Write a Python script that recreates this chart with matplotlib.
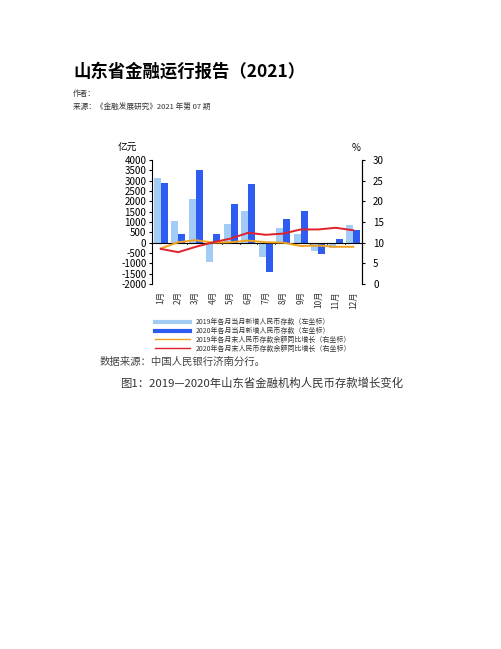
import matplotlib
matplotlib.use("Agg")
import matplotlib.pyplot as plt
from matplotlib.lines import Line2D
import numpy as np

plt.rcParams['font.family'] = ['Noto Sans CJK SC', 'DejaVu Sans']
plt.rcParams['axes.unicode_minus'] = False

months = ["1月", "2月", "3月", "4月", "5月", "6月", "7月", "8月", "9月", "10月", "11月", "12月"]
dep_2019 = [3150, 1050, 2100, -950, 900, 1550, -700, 700, 400, -400, -250, 850]
dep_2020 = [2900, 400, 3500, 400, 1850, 2850, -1400, 1150, 1550, -550, 200, 600]
yoy_2019 = [8.6, 10.1, 10.6, 10.0, 10.1, 10.5, 10.1, 10.0, 9.2, 9.3, 9.0, 9.0]
yoy_2020 = [8.5, 7.7, 9.0, 10.1, 11.0, 12.4, 11.9, 12.2, 13.2, 13.2, 13.6, 13.0]

c_light = "#a2cbf5"
c_dark = "#2f5cf0"
c_orange = "#f0a21e"
c_red = "#e0202a"

fig = plt.figure(figsize=(5.02, 6.49), dpi=100)
fig.patch.set_facecolor("white")

# header text
fig.text(73 / 502, 1 - 72 / 649, "山东省金融运行报告（2021）", fontsize=12.5, fontweight="bold",
         va="center", ha="left")
fig.text(73 / 502, 1 - 94 / 649, "作者：", fontsize=5.5, color="#333333", va="center")
fig.text(73 / 502, 1 - 108 / 649, "来源：《金融发展研究》2021 年第 07 期", fontsize=5.5,
         color="#333333", va="center")

ax = fig.add_axes([152 / 502, 1 - 284 / 649, 210 / 502, 124 / 649])
x = np.arange(len(months))
w = 0.4
ax.bar(x - w / 2, dep_2019, width=w, color=c_light, zorder=2)
ax.bar(x + w / 2, dep_2020, width=w, color=c_dark, zorder=2)
ax.set_xlim(-0.5, 11.5)
ax.set_ylim(-2000, 4000)
ax.set_yticks(range(-2000, 4001, 500))
ax.axhline(0, color="black", lw=0.8, zorder=3)
for s in ["top", "bottom"]:
    ax.spines[s].set_visible(False)
ax.spines["left"].set_linewidth(0.8)
ax.tick_params(axis="y", labelsize=7, length=2, width=0.8, pad=2)
ax.set_xticks(x)
ax.set_xticklabels(months, rotation=90, fontsize=6, color="#333333")
ax.tick_params(axis="x", length=0, pad=5)
for i in range(len(months) + 1):
    ax.plot([i - 0.5, i - 0.5], [0, -60], color="black", lw=0.6, zorder=3)

ax2 = ax.twinx()
ax2.plot(x, yoy_2019, color=c_orange, lw=1.4, zorder=4)
ax2.plot(x, yoy_2020, color=c_red, lw=1.4, zorder=4)
ax2.set_ylim(0, 30)
ax2.set_yticks(range(0, 31, 5))
for s in ["top", "bottom", "left"]:
    ax2.spines[s].set_visible(False)
ax2.spines["right"].set_linewidth(0.8)
ax2.tick_params(axis="y", labelsize=7, length=2, width=0.8, pad=6)

fig.text(127 / 502, 1 - 148 / 649, "亿元", fontsize=7, ha="center", va="center")
fig.text(356 / 502, 1 - 148 / 649, "%", fontsize=7, ha="center", va="center")

handles = [
    Line2D([], [], color=c_light, lw=3),
    Line2D([], [], color=c_dark, lw=3),
    Line2D([], [], color=c_orange, lw=1),
    Line2D([], [], color=c_red, lw=1),
]
labels = [
    "2019年各月当月新增人民币存款（左坐标）",
    "2020年各月当月新增人民币存款（左坐标）",
    "2019年各月末人民币存款余额同比增长（右坐标）",
    "2020年各月末人民币存款余额同比增长（右坐标）",
]
fig.legend(handles, labels, loc="upper left", bbox_to_anchor=(152 / 502, 1 - 315 / 649),
           frameon=False, fontsize=5, handlelength=5, labelspacing=0.1, handletextpad=0.8,
           borderpad=0, labelcolor="#333333")

fig.text(100 / 502, 1 - 362 / 649, "数据来源：中国人民银行济南分行。", fontsize=7.5,
         color="#444444", va="center")
fig.text(120 / 502, 1 - 383 / 649, "图1：2019—2020年山东省金融机构人民币存款增长变化", fontsize=8.2,
         color="#333333", va="center")

fig.savefig("out.png", dpi=100)
